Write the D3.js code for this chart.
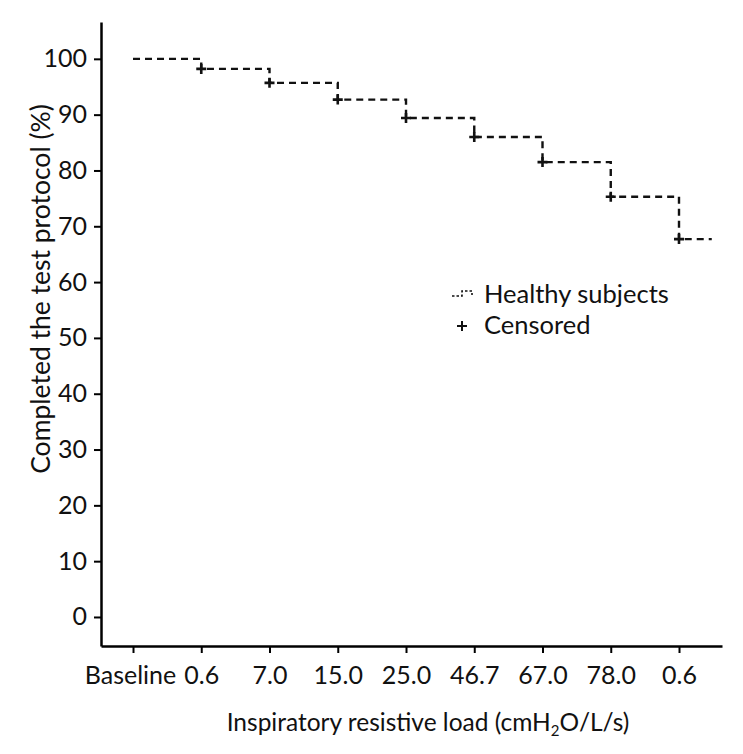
<!DOCTYPE html>
<html><head><meta charset="utf-8">
<script src="https://cdn.jsdelivr.net/npm/d3@7"></script>
<style>body{margin:0;background:#fff}svg{display:block}</style>
</head><body><svg id="c" width="743" height="754"></svg>
<script>
const tickLabels = ["Baseline", "0.6", "7.0", "15.0", "25.0", "46.7", "67.0", "78.0", "0.6"];
const stepIndex = [0, 1, 2, 3, 4, 5, 6, 7, 8];
const survival = [100, 98.2, 95.7, 92.7, 89.4, 86.0, 81.5, 75.3, 67.7];
const censoredIndex = [1, 2, 3, 4, 5, 6, 7, 8];
const yTicks = [0, 10, 20, 30, 40, 50, 60, 70, 80, 90, 100];
const lineEnd = 8.48;

const FONT = "Lato, 'Open Sans', sans-serif";
const svg = d3.select("#c");
const x = d3.scaleLinear().domain([-0.469, 8.63]).range([101, 722]);
const y = d3.scaleLinear().domain([-5.2, 106.6]).range([646, 22]);

// Y axis
const ya = svg.append("g").attr("transform", "translate(101,0)")
  .call(d3.axisLeft(y).tickValues(yTicks).tickSize(7).tickSizeOuter(0).tickPadding(7));
ya.select(".domain").attr("stroke-width", 2.5);
ya.selectAll(".tick line").attr("stroke-width", 2);
ya.selectAll(".tick text").attr("font-family", FONT).attr("font-size", 25).attr("fill", "#111");

// X axis
const xa = svg.append("g").attr("transform", "translate(0,646)")
  .call(d3.axisBottom(x).tickValues(stepIndex).tickFormat(i => tickLabels[i]).tickSize(7).tickSizeOuter(0).tickPadding(13));
xa.select(".domain").attr("stroke-width", 2.5);
xa.selectAll(".tick line").attr("stroke-width", 2);
xa.selectAll(".tick text").attr("font-family", FONT).attr("font-size", 25).attr("fill", "#111")
  .attr("dx", i => i === 0 ? -3 : 0);

// Step line
const pts = stepIndex.map((d, k) => [d, survival[k]]);
pts.push([lineEnd, survival[survival.length - 1]]);
const line = d3.line().x(d => x(d[0])).y(d => y(d[1])).curve(d3.curveStepAfter);
svg.append("path").attr("d", line(pts)).attr("fill", "none").attr("stroke", "#111")
  .attr("stroke-width", 2.4).attr("stroke-dasharray", "7,5");

// Censored marks
svg.selectAll(".cen").data(censoredIndex).join("path")
  .attr("d", "M-5,0H5M0,-5V5")
  .attr("transform", i => `translate(${x(i)},${y(survival[i])})`)
  .attr("stroke", "#111").attr("stroke-width", 2.6).attr("fill", "none");

// Legend
const lg = svg.append("g").attr("transform", "translate(452,293)");
lg.append("path").attr("d", "M0,3H10V-2H20V2").attr("fill", "none").attr("stroke", "#111")
  .attr("stroke-width", 1.6).attr("stroke-dasharray", "2.5,2");
lg.append("text").attr("x", 32).attr("y", 10).text("Healthy subjects")
  .attr("font-family", FONT).attr("font-size", 25.5).attr("fill", "#111");
lg.append("path").attr("d", "M5,33H15M10,28V38").attr("stroke", "#111").attr("stroke-width", 2);
lg.append("text").attr("x", 32).attr("y", 41).text("Censored")
  .attr("font-family", FONT).attr("font-size", 25.5).attr("fill", "#111");

// Axis titles
const xt = svg.append("text").attr("x", 428).attr("y", 731).attr("text-anchor", "middle")
  .attr("font-family", FONT).attr("font-size", 24.5).attr("fill", "#111");
xt.append("tspan").text("Inspiratory resistive load (cmH");
xt.append("tspan").text("2").attr("font-size", 15).attr("dy", 5);
xt.append("tspan").text("O/L/s)").attr("dy", -5);

svg.append("text").attr("transform", "translate(50,289) rotate(-90)").attr("text-anchor", "middle")
  .attr("font-family", FONT).attr("font-size", 26.5).attr("fill", "#111")
  .text("Completed the test protocol (%)");
</script></body></html>
